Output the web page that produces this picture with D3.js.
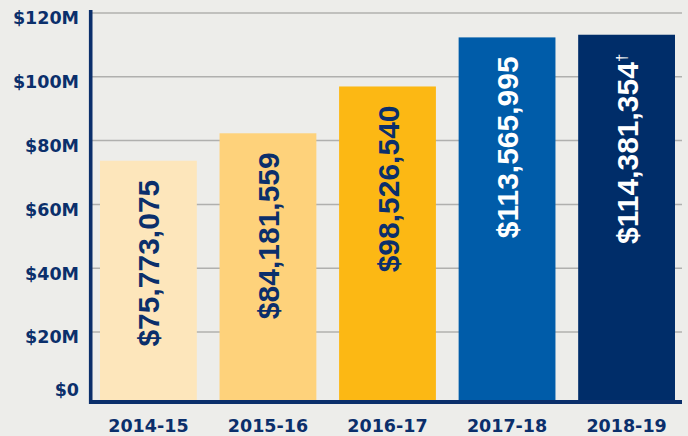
<!DOCTYPE html>
<html>
<head>
<meta charset="utf-8">
<script src="https://cdn.jsdelivr.net/npm/d3@7"></script>
<style>
  html, body { margin: 0; padding: 0; background: #ededea; }
  svg { display: block; }
</style>
</head>
<body>
<svg id="chart" width="688" height="436"></svg>
<script>
const categories = ["2014-15", "2015-16", "2016-17", "2017-18", "2018-19"];
const values = [75773075, 84181559, 98526540, 113565995, 114381354];
const labels = ["$75,773,075", "$84,181,559", "$98,526,540", "$113,565,995", "$114,381,354"];
const notes = ["", "", "", "", "†"];
const barColors = ["#fde6bb", "#fed27b", "#fcb814", "#005ca9", "#002d69"];
const labelColors = ["#0b2f6b", "#0b2f6b", "#0b2f6b", "#ffffff", "#ffffff"];
const tickValues = [0, 20, 40, 60, 80, 100, 120];
const tickLabels = ["$0", "$20M", "$40M", "$60M", "$80M", "$100M", "$120M"];

const navy = "#0b2f6b";
const svg = d3.select("#chart");

const x = d3.scaleBand().domain(categories).range([100, 675]).paddingInner(0.19).paddingOuter(0);
// gridline scale (millions)
const yGrid = d3.scaleLinear().domain([0, 120]).range([395.8, 13]);
// bar scale (dollars) as drawn in the original
const yBar = d3.scaleLinear().domain([0, 120e6]).range([408, 16.4]);
const baseY = 400;

// gridlines
svg.append("g").selectAll("line").data(tickValues.filter(d => d > 0)).join("line")
  .attr("x1", 92).attr("x2", 682)
  .attr("y1", d => yGrid(d)).attr("y2", d => yGrid(d))
  .attr("stroke", "#b0b0ae").attr("stroke-width", 1.5);

// tick labels
svg.append("g").selectAll("text").data(tickValues).join("text")
  .attr("x", 79)
  .attr("y", (d, i) => d === 0 ? 390 : yGrid(d) + 5.3)
  .attr("text-anchor", "end")
  .attr("dominant-baseline", "central")
  .attr("font-family", "DejaVu Sans")
  .attr("font-weight", "bold")
  .attr("font-size", 17.5)
  .attr("fill", navy)
  .text((d, i) => tickLabels[i]);

// bars
svg.append("g").selectAll("rect").data(values).join("rect")
  .attr("x", (d, i) => x(categories[i]))
  .attr("width", x.bandwidth())
  .attr("y", d => yBar(d))
  .attr("height", d => baseY - yBar(d))
  .attr("fill", (d, i) => barColors[i]);

// bar labels (rotated)
const lab = svg.append("g").selectAll("text").data(values).join("text")
  .attr("transform", (d, i) => {
    const cx = x(categories[i]) + x.bandwidth() / 2 + 11;
    const ty = yBar(d) + 19;
    return `translate(${cx},${ty}) rotate(-90)`;
  })
  .attr("text-anchor", "end")
  .attr("font-family", "Liberation Sans, Arial, sans-serif")
  .attr("font-weight", "bold")
  .attr("font-size", 30)
  .attr("fill", (d, i) => labelColors[i]);
lab.append("tspan").text((d, i) => labels[i]);
lab.append("tspan")
  .attr("font-size", 15)
  .attr("font-weight", "normal")
  .attr("dy", -11)
  .text((d, i) => notes[i]);

// axes lines
svg.append("line").attr("x1", 90.7).attr("x2", 90.7).attr("y1", 10).attr("y2", 404)
  .attr("stroke", navy).attr("stroke-width", 3.6);
svg.append("line").attr("x1", 89).attr("x2", 682).attr("y1", 402).attr("y2", 402)
  .attr("stroke", navy).attr("stroke-width", 4);

// category labels
svg.append("g").selectAll("text").data(categories).join("text")
  .attr("x", d => x(d) + x.bandwidth() / 2)
  .attr("y", 432)
  .attr("text-anchor", "middle")
  .attr("font-family", "DejaVu Sans")
  .attr("font-weight", "bold")
  .attr("font-size", 17.5)
  .attr("fill", navy)
  .text(d => d);
</script>
</body>
</html>
